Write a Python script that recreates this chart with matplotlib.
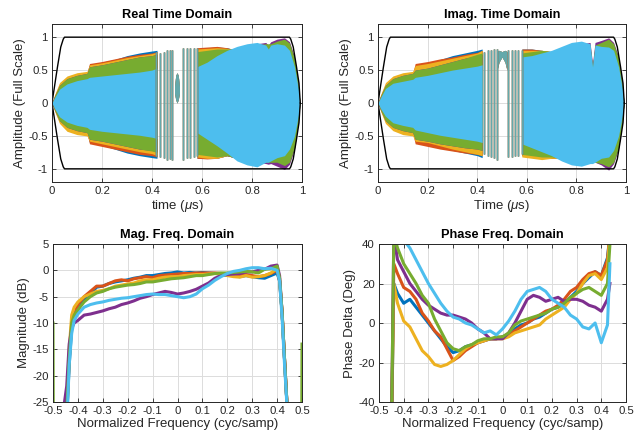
import matplotlib
matplotlib.use("Agg")
import matplotlib.pyplot as plt
import numpy as np

plt.rcParams['font.family'] = ['Liberation Sans', 'DejaVu Sans']
plt.rcParams['axes.unicode_minus'] = False
plt.rcParams['mathtext.fontset'] = 'custom'
plt.rcParams['mathtext.it'] = 'Liberation Sans:italic'

# MATLAB default line order
COLORS = ['#0072BD', '#D95319', '#EDB120', '#7E2F8E', '#77AC30', '#4DBEEE']

# ---------------- time domain (envelopes of the 6 captures) ----------------
T = [0, 0.01, 0.03, 0.06, 0.1, 0.14, 0.15, 0.2, 0.25, 0.3, 0.35, 0.4, 0.42,
     0.58, 0.62, 0.66, 0.7, 0.74, 0.78, 0.82, 0.855, 0.865, 0.875, 0.9, 0.93, 0.95, 0.97,
     0.985, 0.992]
N_LEFT = 13  # samples before the sparse section around 0.5 us

re_hi_blue = [0, 0.1, 0.27, 0.37, 0.42, 0.45, 0.58, 0.62, 0.66, 0.72, 0.76, 0.79, 0.8,
              0.82, 0.84, 0.85, 0.84, 0.8, 0.84, 0.86, 0.85, 0.85, 0.85, 0.88, 0.9, 0.86, 0.68, 0.3, 0]
re_lo_blue = [0, -0.1, -0.27, -0.37, -0.42, -0.45, -0.6, -0.64, -0.7, -0.76, -0.8, -0.83, -0.84,
              -0.84, -0.84, -0.84, -0.8, -0.84, -0.88, -0.88, -0.86, -0.86, -0.86, -0.88, -0.92,
              -0.86, -0.68, -0.3, 0]
re_hi_orange = [0, 0.11, 0.29, 0.39, 0.43, 0.46, 0.6, 0.63, 0.67, 0.71, 0.74, 0.76, 0.78,
                0.84, 0.85, 0.86, 0.84, 0.8, 0.84, 0.86, 0.85, 0.85, 0.85, 0.88, 0.9, 0.86, 0.68, 0.3, 0]
re_lo_orange = [0, -0.11, -0.29, -0.39, -0.43, -0.46, -0.62, -0.66, -0.7, -0.74, -0.78, -0.8, -0.82,
                -0.84, -0.85, -0.84, -0.8, -0.84, -0.88, -0.88, -0.86, -0.86, -0.86, -0.88, -0.92,
                -0.86, -0.68, -0.3, 0]
re_hi_yellow = [0, 0.12, 0.31, 0.41, 0.46, 0.48, 0.58, 0.61, 0.65, 0.69, 0.72, 0.75, 0.77,
                0.82, 0.83, 0.84, 0.83, 0.8, 0.84, 0.86, 0.85, 0.85, 0.85, 0.88, 0.9, 0.86, 0.68, 0.3, 0]
re_lo_yellow = [0, -0.12, -0.31, -0.43, -0.48, -0.5, -0.58, -0.62, -0.66, -0.7, -0.74, -0.77, -0.8,
                -0.82, -0.84, -0.84, -0.8, -0.84, -0.88, -0.88, -0.86, -0.86, -0.86, -0.88, -0.92,
                -0.86, -0.68, -0.3, 0]
re_hi_purple = [0, 0.1, 0.27, 0.37, 0.42, 0.45, 0.55, 0.58, 0.62, 0.66, 0.7, 0.72, 0.74,
                0.76, 0.78, 0.8, 0.8, 0.82, 0.86, 0.9, 0.92, 0.88, 0.93, 0.97, 0.99, 0.93, 0.7, 0.3, 0]
re_lo_purple = [0, -0.1, -0.27, -0.37, -0.42, -0.45, -0.55, -0.58, -0.62, -0.66, -0.7, -0.72, -0.74,
                -0.76, -0.78, -0.8, -0.8, -0.84, -0.88, -0.9, -0.92, -0.93, -0.92, -0.96, -1.01,
                -0.93, -0.7, -0.3, 0]
re_hi_green = [0, 0.1, 0.27, 0.37, 0.42, 0.45, 0.55, 0.58, 0.62, 0.66, 0.7, 0.72, 0.74,
               0.78, 0.8, 0.82, 0.82, 0.82, 0.86, 0.88, 0.9, 0.9, 0.9, 0.94, 0.97, 0.91, 0.68, 0.3, 0]
re_lo_green = [0, -0.1, -0.27, -0.37, -0.42, -0.45, -0.55, -0.58, -0.62, -0.66, -0.7, -0.73, -0.75,
               -0.78, -0.8, -0.82, -0.8, -0.84, -0.88, -0.9, -0.9, -0.9, -0.9, -0.9, -0.95,
               -0.9, -0.68, -0.3, 0]
re_hi_cyan = [0, 0.08, 0.21, 0.29, 0.34, 0.37, 0.39, 0.41, 0.43, 0.45, 0.47, 0.5, 0.53,
              0.55, 0.62, 0.72, 0.8, 0.86, 0.9, 0.92, 0.88, 0.82, 0.88, 0.9, 0.88, 0.8, 0.55, 0.22, 0]
re_lo_cyan = [0, -0.08, -0.21, -0.29, -0.34, -0.37, -0.4, -0.43, -0.45, -0.47, -0.49, -0.52, -0.54,
              -0.45, -0.55, -0.65, -0.76, -0.88, -0.94, -0.97, -0.9, -0.9, -0.88, -0.83, -0.8,
              -0.7, -0.5, -0.2, 0]

im_hi_blue = [0, 0.1, 0.27, 0.37, 0.42, 0.45, 0.55, 0.6, 0.66, 0.72, 0.76, 0.8, 0.82,
              0.82, 0.82, 0.8, 0.78, 0.8, 0.84, 0.86, 0.84, 0.55, 0.84, 0.84, 0.9, 0.86, 0.68, 0.3, 0]
im_lo_blue = [0, -0.1, -0.27, -0.37, -0.42, -0.45, -0.58, -0.62, -0.66, -0.72, -0.76, -0.8, -0.83,
              -0.8, -0.82, -0.84, -0.84, -0.84, -0.88, -0.88, -0.86, -0.86, -0.86, -0.88, -0.92,
              -0.86, -0.68, -0.3, 0]
im_hi_orange = [0, 0.11, 0.29, 0.39, 0.43, 0.46, 0.6, 0.63, 0.67, 0.7, 0.74, 0.77, 0.8,
                0.82, 0.82, 0.8, 0.78, 0.8, 0.84, 0.86, 0.84, 0.55, 0.84, 0.84, 0.9, 0.86, 0.68, 0.3, 0]
im_lo_orange = [0, -0.11, -0.29, -0.39, -0.43, -0.46, -0.62, -0.66, -0.7, -0.73, -0.76, -0.78, -0.8,
                -0.8, -0.82, -0.84, -0.84, -0.84, -0.88, -0.88, -0.86, -0.86, -0.86, -0.88, -0.92,
                -0.86, -0.68, -0.3, 0]
im_hi_yellow = [0, 0.12, 0.31, 0.41, 0.46, 0.48, 0.57, 0.6, 0.64, 0.68, 0.72, 0.76, 0.8,
                0.8, 0.8, 0.8, 0.78, 0.8, 0.84, 0.86, 0.84, 0.55, 0.84, 0.84, 0.9, 0.86, 0.68, 0.3, 0]
im_lo_yellow = [0, -0.12, -0.31, -0.42, -0.48, -0.5, -0.58, -0.6, -0.65, -0.7, -0.74, -0.78, -0.8,
                -0.82, -0.84, -0.86, -0.84, -0.84, -0.88, -0.88, -0.86, -0.86, -0.86, -0.88, -0.92,
                -0.86, -0.68, -0.3, 0]
im_hi_purple = [0, 0.1, 0.27, 0.37, 0.42, 0.45, 0.5, 0.53, 0.58, 0.63, 0.68, 0.72, 0.74,
                0.74, 0.76, 0.78, 0.78, 0.82, 0.86, 0.9, 0.92, 0.6, 0.92, 0.95, 0.99, 0.92, 0.7, 0.3, 0]
im_lo_purple = [0, -0.1, -0.27, -0.37, -0.42, -0.45, -0.55, -0.58, -0.62, -0.65, -0.68, -0.7, -0.72,
                -0.76, -0.78, -0.8, -0.8, -0.84, -0.88, -0.9, -0.9, -0.9, -0.9, -0.94, -1.02,
                -0.92, -0.7, -0.3, 0]
im_hi_green = [0, 0.1, 0.27, 0.37, 0.42, 0.45, 0.5, 0.53, 0.58, 0.63, 0.68, 0.74, 0.76,
               0.76, 0.78, 0.8, 0.78, 0.82, 0.86, 0.88, 0.88, 0.56, 0.88, 0.92, 0.97, 0.9, 0.68, 0.3, 0]
im_lo_green = [0, -0.1, -0.27, -0.37, -0.42, -0.45, -0.55, -0.58, -0.62, -0.65, -0.68, -0.7, -0.72,
               -0.78, -0.8, -0.82, -0.82, -0.84, -0.88, -0.9, -0.9, -0.9, -0.9, -0.92, -0.97,
               -0.9, -0.68, -0.3, 0]
im_hi_cyan = [0, 0.08, 0.22, 0.3, 0.33, 0.36, 0.39, 0.42, 0.46, 0.5, 0.53, 0.56, 0.58,
              0.7, 0.72, 0.76, 0.8, 0.86, 0.92, 0.94, 0.9, 0.55, 0.88, 0.86, 0.85, 0.8, 0.55, 0.22, 0]
im_lo_cyan = [0, -0.08, -0.2, -0.3, -0.34, -0.37, -0.41, -0.45, -0.49, -0.52, -0.55, -0.58, -0.6,
              -0.62, -0.68, -0.74, -0.8, -0.88, -0.94, -0.96, -0.92, -0.92, -0.9, -0.84, -0.82,
              -0.72, -0.5, -0.2, 0]

# sparse cycles around the spectrum centre
re_stripe_t = [0.417, 0.43, 0.446, 0.459, 0.47, 0.479, 0.523, 0.539, 0.553, 0.566, 0.58]
re_stripe_hi = [0.78, 0.76, 0.78, 0.8, 0.8, 0.8, 0.84, 0.84, 0.84, 0.84, 0.84]
re_stripe_lo = [-0.8, -0.82, -0.84, -0.86, -0.85, -0.87, -0.86, -0.84, -0.84, -0.82, -0.8]
re_blob_t = [0.49, 0.495, 0.5, 0.505, 0.51]
re_blob_hi = [0.25, 0.42, 0.46, 0.42, 0.25]
re_blob_lo = [0.15, 0.05, 0.0, 0.05, 0.15]

im_stripe_t = [0.429, 0.442, 0.456, 0.468, 0.478, 0.526, 0.539, 0.552, 0.566, 0.579]
im_stripe_hi = [0.78, 0.8, 0.8, 0.82, 0.82, 0.8, 0.8, 0.8, 0.8, 0.8]
im_stripe_lo = [-0.78, -0.8, -0.82, -0.84, -0.86, -0.82, -0.82, -0.8, -0.8, -0.78]
im_blob_t = [0.48, 0.488, 0.5, 0.512, 0.52]
im_blob_hi = [0.78, 0.8, 0.78, 0.8, 0.78]
im_blob_lo = [0.5, 0.62, 0.7, 0.62, 0.5]

# full-scale mask
bound_t = [0, 0.012, 0.022, 0.035, 0.045, 0.05, 0.95, 0.955, 0.965, 0.978, 0.988, 0.993]
bound_v = [0, 0.3, 0.55, 0.85, 0.97, 1.0, 1.0, 0.97, 0.85, 0.55, 0.3, 0]

# ---------------- magnitude (dB) ----------------
MAG_F = [-0.5, -0.498, -0.445, -0.435, -0.425, -0.415, -0.40, -0.375, -0.35, -0.325, -0.30,
         -0.275, -0.25, -0.225, -0.20, -0.175, -0.15, -0.125, -0.10, -0.075, -0.05, -0.025,
         0.0, 0.025, 0.05, 0.075, 0.10, 0.125, 0.15, 0.175, 0.20, 0.225, 0.25, 0.275, 0.30,
         0.325, 0.35, 0.375, 0.40, 0.41, 0.42, 0.43, 0.445, 0.498, 0.5]
mag_blue = [-40, -40, -28, -18, -11, -9, -7.5, -5.5, -4.5, -3.2, -3.0, -2.5, -2.2, -2.0, -1.8,
            -1.5, -1.3, -1.0, -1.0, -0.8, -0.6, -0.5, -0.3, -0.5, -0.4, -0.5, -0.4, -0.5, -0.6,
            -0.7, -0.9, -1.0, -1.2, -1.0, -1.2, -1.4, -1.5, -1.0, -0.5, -2, -8, -17, -30, -40, -40]
mag_orange = [-40, -40, -28, -17, -10, -8.5, -6.5, -5.0, -4.0, -3.0, -3.0, -2.5, -2.0, -1.8, -2.0,
              -1.6, -1.4, -1.2, -1.4, -1.0, -0.9, -0.8, -0.7, -0.6, -0.6, -0.5, -0.5, -0.5, -0.5,
              -0.6, -0.8, -0.9, -1.0, -0.8, -1.0, -1.2, -1.0, -0.6, 0.0, -2, -8, -17, -30, -40, -40]
mag_yellow = [-40, -40, -26, -15, -8.5, -7, -6.0, -5.0, -4.5, -4.0, -3.8, -3.5, -3.0, -2.8, -2.6,
              -2.4, -2.0, -1.8, -1.8, -1.5, -1.3, -1.2, -1.2, -1.0, -0.9, -0.8, -0.8, -0.7, -0.6,
              -0.7, -1.0, -1.2, -1.3, -1.0, -1.3, -1.2, -1.0, -0.5, 0.3, -1.5, -8, -17, -30, -40, -40]
mag_purple = [-40, -40, -22, -14, -11, -10, -9.5, -8.5, -8.3, -8.0, -7.7, -7.3, -7.0, -6.5, -6.2,
              -5.8, -5.3, -5.0, -4.6, -4.3, -4.0, -4.2, -4.5, -4.3, -4.0, -3.6, -3.0, -2.4, -1.5,
              -1.0, -0.8, -0.7, -0.6, -0.3, -0.3, 0.0, 0.2, 0.8, 1.0, -1.0, -8, -17, -30, -40, -40]
mag_green = [-10, -40, -27, -17, -10, -8.5, -7.5, -6.0, -5.0, -4.3, -4.0, -3.5, -3.2, -3.0, -2.8,
             -2.7, -2.5, -2.2, -2.2, -2.0, -1.8, -1.6, -1.5, -1.4, -1.2, -1.0, -1.0, -0.8, -0.6,
             -0.5, -0.5, -0.4, -0.3, -0.2, -0.3, -0.5, 0.2, 0.3, 0.8, -1.5, -8, -17, -30, -40, -14]
mag_cyan = [-40, -40, -30, -18, -12, -9.5, -8.3, -7.0, -6.5, -6.2, -6.0, -5.7, -5.5, -5.3, -5.2,
            -5.0, -4.8, -4.6, -4.5, -4.6, -4.6, -4.8, -5.0, -5.2, -5.0, -4.5, -3.5, -2.8, -1.9,
            -1.2, -0.6, -0.2, 0.0, 0.3, 0.5, 0.5, 0.3, 0.4, 0.0, -2, -9, -18, -30, -40, -40]

# ---------------- phase delta (deg) ----------------
PH_F = [-0.45, -0.44, -0.425, -0.40, -0.375, -0.35, -0.325, -0.30, -0.275, -0.25, -0.225,
        -0.20, -0.175, -0.15, -0.125, -0.10, -0.075, -0.05, -0.025, 0.0, 0.025, 0.05, 0.075,
        0.10, 0.125, 0.15, 0.175, 0.20, 0.225, 0.25, 0.275, 0.30, 0.325, 0.35, 0.375, 0.40,
        0.425, 0.435]
ph_blue = [-60, 20, 15, 10, 12, 8, 4, 0, -4, -8, -12, -15, -14, -12, -11, -10, -9, -8, -8, -7,
           -6, -3, -1, 0, 2, 3, 5, 7, 8, 10, 13, 16, 20, 23, 26, 24, 33, 45]
ph_orange = [-60, 30, 25, 18, 16, 12, 5, 1, -4, -7, -13, -19, -17, -14, -12, -10, -9, -8, -8, -7,
             -6, -4, -2, 0, 2, 4, 6, 7, 9, 12, 16, 18, 22, 25, 26, 24, 32, 45]
ph_yellow = [-60, 20, 10, 1, -2, -8, -14, -17, -21, -22, -21, -19, -16, -13, -11, -10, -9, -8, -8,
             -8, -7, -5, -4, -3, -2, -1, 2, 4, 6, 8, 12, 15, 20, 24, 25, 22, 28, 45]
ph_purple = [-60, 45, 32, 26, 20, 16, 12, 9, 7, 5, 4, 4, 3, 2, 0, -3, -5, -8, -8, -8, -5, 0, 6,
             12, 14, 13, 11, 12, 13, 11, 12, 12, 11, 9, 8, 6, 12, 20]
ph_green = [-60, 45, 38, 30, 25, 20, 14, 10, 2, -4, -10, -13, -14, -12, -11, -9, -8, -8, -7, -7,
            -5, -1, 1, 2, 3, 4, 5, 7, 8, 10, 13, 15, 17, 18, 16, 14, 20, 40]
ph_cyan = [60, 55, 48, 42, 38, 32, 26, 20, 15, 10, 6, 3, 2, 0, -1, -3, -5, -4, -6, -3, 1, 6, 12,
           16, 17, 18, 16, 12, 10, 8, 4, 2, -2, -3, 0, -10, -1, 30]

re_hi = [re_hi_blue, re_hi_orange, re_hi_yellow, re_hi_purple, re_hi_green, re_hi_cyan]
re_lo = [re_lo_blue, re_lo_orange, re_lo_yellow, re_lo_purple, re_lo_green, re_lo_cyan]
im_hi = [im_hi_blue, im_hi_orange, im_hi_yellow, im_hi_purple, im_hi_green, im_hi_cyan]
im_lo = [im_lo_blue, im_lo_orange, im_lo_yellow, im_lo_purple, im_lo_green, im_lo_cyan]
mags = [mag_blue, mag_orange, mag_yellow, mag_purple, mag_green, mag_cyan]
phases = [ph_blue, ph_orange, ph_yellow, ph_purple, ph_green, ph_cyan]

W, H = 643, 440
fig = plt.figure(figsize=(W / 100, H / 100), dpi=100)


def px_axes(left, top, right, bottom):
    return fig.add_axes([left / W, 1 - bottom / H, (right - left) / W, (bottom - top) / H])


def style(ax, title, xlabel, ylabel):
    ax.set_title(title, fontsize=9.2, fontweight='bold', pad=4, color='black')
    ax.set_xlabel(xlabel, fontsize=9.5, color='#262626', labelpad=1.5)
    ax.set_ylabel(ylabel, fontsize=9.5, color='#262626', labelpad=1.5)
    ax.grid(True, color='#dcdcdc', linewidth=0.7)
    ax.set_axisbelow(True)
    ax.tick_params(direction='in', length=3, width=0.6, labelsize=8.2, colors='#262626',
                   top=True, right=True, pad=3)
    for s in ax.spines.values():
        s.set_color('#262626')
        s.set_linewidth(0.7)


def time_panel(ax, his, los, st_t, st_hi, st_lo, b_t, b_hi, b_lo):
    t = np.array(T)
    for c, hi, lo in zip(COLORS, his, los):
        hi = np.array(hi)
        lo = np.array(lo)
        ax.fill_between(t[:N_LEFT], lo[:N_LEFT], hi[:N_LEFT], color=c, lw=0)
        ax.fill_between(t[N_LEFT:], lo[N_LEFT:], hi[N_LEFT:], color=c, lw=0)
        ax.vlines(st_t, st_lo, st_hi, color=c, lw=1.0, alpha=0.6)
        ax.fill_between(b_t, b_lo, b_hi, color=c, lw=0, alpha=0.6)
    ax.plot(bound_t, bound_v, color='black', lw=1.0)
    ax.plot(bound_t, -np.array(bound_v), color='black', lw=1.0)
    ax.set_xlim(0, 1)
    ax.set_ylim(-1.2, 1.2)
    ax.set_xticks([0, 0.2, 0.4, 0.6, 0.8, 1])
    ax.set_xticklabels(['0', '0.2', '0.4', '0.6', '0.8', '1'])
    ax.set_yticks([-1, -0.5, 0, 0.5, 1])
    ax.set_yticklabels(['-1', '-0.5', '0', '0.5', '1'])


freq_ticks = [-0.5, -0.4, -0.3, -0.2, -0.1, 0, 0.1, 0.2, 0.3, 0.4, 0.5]
freq_labels = ['-0.5', '-0.4', '-0.3', '-0.2', '-0.1', '0', '0.1', '0.2', '0.3', '0.4', '0.5']

ax1 = px_axes(52, 24, 302, 182)
time_panel(ax1, re_hi, re_lo, re_stripe_t, re_stripe_hi, re_stripe_lo,
           re_blob_t, re_blob_hi, re_blob_lo)
style(ax1, 'Real Time Domain', r'time ($\mu$s)', 'Amplitude (Full Scale)')

ax2 = px_axes(378, 24, 626, 182)
time_panel(ax2, im_hi, im_lo, im_stripe_t, im_stripe_hi, im_stripe_lo,
           im_blob_t, im_blob_hi, im_blob_lo)
style(ax2, 'Imag. Time Domain', r'Time ($\mu$s)', 'Amplitude (Full Scale)')

ax3 = px_axes(53, 244, 302, 402)
for c, m in zip(COLORS, mags):
    ax3.plot(MAG_F, m, color=c, lw=2.2)
ax3.set_xlim(-0.5, 0.5)
ax3.set_ylim(-25, 5)
ax3.set_xticks(freq_ticks)
ax3.set_xticklabels(freq_labels)
ax3.set_yticks([-25, -20, -15, -10, -5, 0, 5])
ax3.set_yticklabels(['-25', '-20', '-15', '-10', '-5', '0', '5'])
style(ax3, 'Mag. Freq. Domain', 'Normalized Frequency (cyc/samp)', 'Magnitude (dB)')

ax4 = px_axes(379, 244, 626, 402)
for c, p in zip(COLORS, phases):
    ax4.plot(PH_F, p, color=c, lw=2.2)
ax4.set_xlim(-0.5, 0.5)
ax4.set_ylim(-40, 40)
ax4.set_xticks(freq_ticks)
ax4.set_xticklabels(freq_labels)
ax4.set_yticks([-40, -20, 0, 20, 40])
ax4.set_yticklabels(['-40', '-20', '0', '20', '40'])
style(ax4, 'Phase Freq. Domain', 'Normalized Frequency (cyc/samp)', 'Phase Delta (Deg)')

fig.savefig('out.png', dpi=100, facecolor='white')
